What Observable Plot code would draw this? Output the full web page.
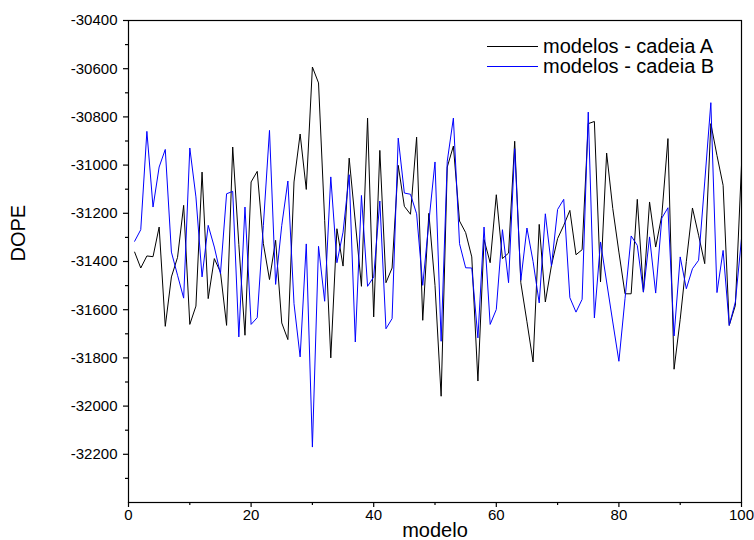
<!DOCTYPE html>
<html>
<head>
<meta charset="utf-8">
<script src="https://cdn.jsdelivr.net/npm/d3@7"></script>
<script src="https://cdn.jsdelivr.net/npm/@observablehq/plot@0.6"></script>
<style>
  html, body { margin: 0; padding: 0; background: #fff; }
  #wrap { position: relative; width: 754px; height: 540px; font-family: "Liberation Sans", Arial, sans-serif; }
  #legend { position: absolute; left: 487px; top: 36px; font-size: 20px; color: #000; }
  #legend .row { display: flex; align-items: center; height: 20px; }
  #legend .sw { width: 51px; height: 0; border-top: 1px solid; margin-right: 5px; }
</style>
</head>
<body>
<div id="wrap"><div id="legend"></div></div>
<script>
const modelos = d3.range(1, 101);
const cadeiaA = [
  -31361, -31427, -31377, -31380, -31257, -31669, -31464, -31383, -31167, -31661,
  -31585, -31029, -31554, -31388, -31444, -31665, -30925, -31330, -31706, -31070,
  -31026, -31326, -31475, -31312, -31655, -31724, -31070, -30871, -31101, -30593,
  -30659, -31229, -31800, -31264, -31419, -30971, -31236, -31503, -30805, -31630,
  -30939, -31488, -31427, -31001, -31171, -31204, -30884, -31644, -31200, -31499,
  -31959, -31008, -30921, -31232, -31280, -31381, -31896, -31309, -31405, -31123,
  -31388, -31365, -30901, -31488, -31650, -31817, -31246, -31568, -31416, -31305,
  -31250, -31188, -31372, -31351, -30828, -30819, -31485, -30950, -31180, -31361,
  -31534, -31534, -31142, -31527, -31153, -31340, -31209, -30890, -31847, -31640,
  -31400, -31178, -31291, -31409, -30828, -30960, -31084, -31665, -31582, -31000
];
const cadeiaB = [
  -31316, -31268, -30860, -31174, -31008, -30935, -31361, -31457, -31552, -30929,
  -31132, -31464, -31250, -31340, -31451, -31119, -31109, -31713, -31174, -31661,
  -31633, -31250, -30856, -31495, -31250, -31066, -31575, -31796, -31327, -32170,
  -31337, -31565, -31049, -31405, -31278, -31040, -31734, -31126, -31503, -31464,
  -31149, -31679, -31637, -30888, -31116, -31121, -31202, -31499, -31236, -30987,
  -31731, -30984, -30805, -31326, -31426, -31427, -31717, -31257, -31661, -31599,
  -31268, -31488, -30932, -31478, -31261, -31400, -31572, -31202, -31419, -31184,
  -31142, -31550, -31610, -31557, -30780, -31634, -31319, -31485, -31651, -31814,
  -31554, -31294, -31333, -31527, -31298, -31531, -31220, -31177, -31709, -31381,
  -31513, -31430, -31395, -31070, -30741, -31529, -31354, -31665, -31568, -31305
];
const seriesNames = ["modelos - cadeia A", "modelos - cadeia B"];
const seriesColors = ["#000000", "#0000ff"];
const xTicks = [0, 20, 40, 60, 80, 100];
const xMinorTicks = [10, 30, 50, 70, 90];
const yTicks = [-32200, -32000, -31800, -31600, -31400, -31200, -31000, -30800, -30600, -30400];
const yMinorTicks = [-32300, -32100, -31900, -31700, -31500, -31300, -31100, -30900, -30700, -30500];
const xTitle = "modelo";
const yTitle = "DOPE";

const data = [];
[cadeiaA, cadeiaB].forEach((vals, s) => {
  vals.forEach((v, i) => data.push({modelo: modelos[i], DOPE: v, serie: seriesNames[s]}));
});

const chart = Plot.plot({
  width: 754,
  height: 540,
  marginLeft: 128,
  marginRight: 13,
  marginTop: 20,
  marginBottom: 38,
  style: {fontFamily: "'Liberation Sans', Arial, sans-serif", background: "#fff", color: "#000", overflow: "visible"},
  x: {domain: [0, 100]},
  y: {domain: [-32400, -30400]},
  color: {domain: seriesNames, range: seriesColors},
  marks: [
    Plot.lineY(data, {x: "modelo", y: "DOPE", stroke: "serie", strokeWidth: 1}),
    Plot.frame({stroke: "#000", strokeWidth: 1.2}),
    Plot.axisX(xTicks, {tickSize: 5, tickPadding: 2, fontSize: 15, tickFormat: d => String(d), label: null, strokeWidth: 1.2}),
    Plot.axisX(xMinorTicks, {tickSize: 3, tickFormat: () => "", label: null, strokeWidth: 1.2}),
    Plot.axisY(yTicks, {tickSize: 5, tickPadding: 6, fontSize: 15, tickFormat: d => String(d), label: null, strokeWidth: 1.2}),
    Plot.axisY(yMinorTicks, {tickSize: 3, tickFormat: () => "", label: null, strokeWidth: 1.2}),
    Plot.text([yTitle], {frameAnchor: "left", dx: -110, rotate: -90, fontSize: 20, lineAnchor: "middle"}),
    Plot.text([xTitle], {frameAnchor: "bottom", dy: 28, fontSize: 20, lineAnchor: "middle"})
  ]
});
document.getElementById("wrap").prepend(chart);

const legend = document.getElementById("legend");
seriesNames.forEach((name, i) => {
  const row = document.createElement("div");
  row.className = "row";
  const sw = document.createElement("span");
  sw.className = "sw";
  sw.style.borderTopColor = seriesColors[i];
  const t = document.createElement("span");
  t.textContent = name;
  row.appendChild(sw);
  row.appendChild(t);
  legend.appendChild(row);
});
</script>
</body>
</html>
